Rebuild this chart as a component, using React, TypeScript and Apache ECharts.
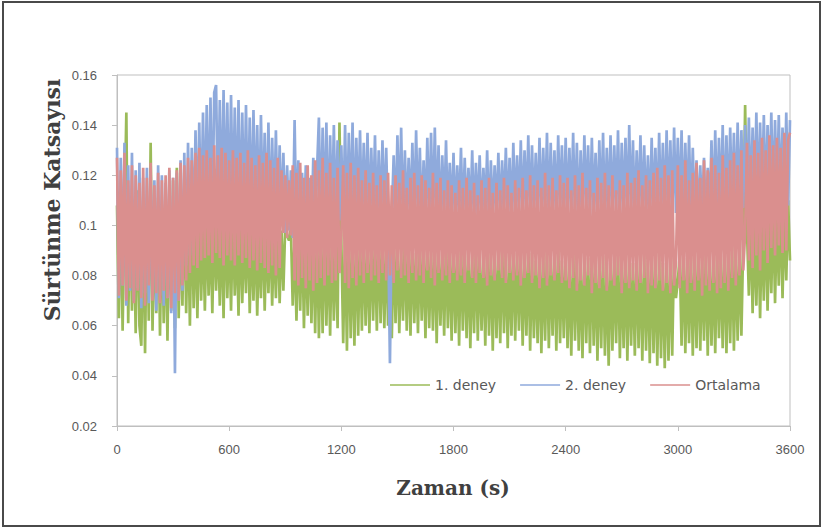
import React, { useEffect, useRef } from "react";
import * as echarts from "echarts";

// Sample spacing of the recorded data (seconds)
const sampleStep = 10;

// X-axis ticks
const xTicks = [0, 600, 1200, 1800, 2400, 3000, 3600];

// 1. deney (every 10 s; one row = 120 s)
const deney1 = [
  .108,.063,.112,.058,.104,.145,.061,.110,.066,.103,.057,.114,
  .060,.052,.106,.049,.109,.062,.133,.058,.101,.065,.111,.056,
  .104,.061,.099,.054,.112,.066,.118,.059,.123,.063,.107,.068,
  .113,.065,.104,.060,.109,.067,.101,.063,.106,.070,.100,.066,
  .103,.072,.098,.065,.105,.074,.099,.068,.102,.063,.107,.071,
  .100,.066,.104,.072,.097,.064,.103,.069,.099,.073,.105,.065,
  .098,.070,.102,.064,.096,.071,.104,.066,.099,.073,.101,.068,
  .097,.071,.103,.069,.098,.074,.100,.096,.094,.099,.068,.095,
  .062,.098,.066,.101,.059,.096,.064,.100,.061,.097,.057,.099,
  .055,.097,.057,.100,.060,.095,.056,.098,.062,.094,.059,.141,
  .094,.053,.097,.050,.099,.055,.093,.052,.098,.056,.095,.058,
  .096,.060,.092,.057,.097,.062,.094,.058,.098,.061,.093,.059,
  .095,.060,.091,.055,.096,.061,.093,.057,.090,.062,.097,.058,
  .092,.056,.096,.061,.089,.057,.094,.062,.091,.055,.095,.059,
  .090,.058,.094,.053,.092,.060,.089,.056,.095,.059,.091,.054,
  .093,.057,.089,.052,.094,.058,.090,.055,.092,.051,.088,.057,
  .094,.054,.090,.058,.087,.052,.093,.056,.089,.050,.092,.055,
  .088,.053,.093,.057,.090,.051,.087,.056,.094,.054,.089,.058,
  .091,.052,.087,.056,.093,.050,.089,.055,.086,.053,.092,.049,
  .088,.054,.091,.051,.087,.056,.090,.050,.093,.053,.086,.055,
  .090,.051,.086,.048,.091,.054,.088,.050,.085,.047,.090,.053,
  .087,.049,.091,.052,.086,.046,.089,.051,.088,.048,.085,.044,
  .090,.050,.087,.053,.091,.047,.086,.051,.089,.046,.088,.052,
  .085,.048,.090,.051,.087,.046,.089,.050,.086,.045,.091,.049,
  .087,.044,.089,.047,.085,.043,.088,.046,.086,.048,.090,.071,
  .078,.088,.052,.091,.049,.087,.053,.090,.048,.088,.051,.092,
  .050,.087,.054,.090,.048,.089,.052,.086,.049,.091,.055,.088,
  .051,.092,.049,.089,.053,.093,.050,.090,.054,.091,.056,.094,
  .148,.098,.072,.103,.065,.099,.068,.104,.063,.101,.070,.106,
  .066,.102,.073,.108,.069,.104,.076,.109,.071,.105,.078,.110,
  .086,
];

// 2. deney
const deney2 = [
  .131,.071,.127,.076,.133,.068,.124,.074,.129,.070,.122,.075,
  .125,.067,.119,.073,.123,.069,.121,.075,.118,.066,.124,.072,
  .120,.068,.117,.071,.122,.065,.119,.041,.121,.070,.126,.074,
  .129,.084,.133,.088,.131,.092,.138,.095,.141,.098,.145,.100,
  .148,.102,.151,.099,.153,.156,.104,.150,.101,.154,.103,.149,
  .100,.152,.103,.147,.101,.150,.098,.145,.102,.148,.100,.143,
  .099,.146,.102,.140,.098,.144,.101,.137,.099,.141,.097,.135,
  .100,.138,.098,.132,.101,.129,.097,.124,.098,.122,.095,.142,
  .096,.126,.093,.121,.098,.124,.092,.119,.097,.127,.094,.122,
  .143,.097,.139,.100,.141,.095,.136,.101,.140,.098,.134,.102,
  .132,.099,.140,.097,.137,.102,.141,.098,.135,.103,.138,.100,
  .133,.102,.137,.099,.131,.103,.136,.098,.130,.101,.134,.102,
  .131,.099,.045,.103,.128,.100,.136,.102,.139,.098,.130,.101,
  .127,.103,.133,.100,.138,.102,.131,.099,.126,.103,.135,.101,
  .137,.100,.139,.102,.132,.099,.128,.103,.134,.101,.125,.102,
  .129,.101,.124,.104,.131,.100,.127,.103,.123,.102,.130,.100,
  .125,.103,.128,.101,.123,.104,.130,.100,.126,.102,.124,.105,
  .129,.101,.126,.104,.131,.102,.127,.100,.133,.103,.128,.104,
  .134,.102,.130,.105,.136,.101,.132,.103,.129,.104,.135,.102,
  .131,.104,.137,.101,.133,.103,.130,.102,.136,.105,.132,.101,
  .135,.103,.131,.104,.137,.102,.133,.100,.130,.103,.136,.105,
  .132,.102,.135,.104,.129,.101,.134,.103,.137,.100,.131,.104,
  .136,.102,.132,.105,.138,.101,.133,.104,.135,.102,.140,.103,
  .134,.101,.130,.104,.136,.102,.132,.103,.128,.100,.135,.104,
  .131,.102,.137,.103,.133,.101,.138,.104,.134,.102,.139,.105,
  .135,.103,.138,.101,.133,.104,.136,.102,.131,.103,.126,.101,
  .124,.103,.127,.100,.123,.104,.134,.102,.138,.103,.135,.105,
  .140,.102,.136,.104,.139,.106,.137,.103,.141,.105,.138,.107,
  .140,.108,.143,.106,.139,.109,.145,.107,.141,.108,.144,.106,
  .140,.110,.145,.107,.142,.109,.144,.108,.139,.110,.145,.108,
  .142,
];

// Ortalama
const ortalama = [
  .127,.072,.122,.076,.129,.070,.118,.075,.124,.069,.120,.074,
  .117,.071,.123,.068,.119,.076,.125,.070,.116,.073,.121,.069,
  .118,.074,.120,.071,.123,.067,.119,.073,.122,.070,.125,.076,
  .124,.078,.127,.081,.126,.084,.129,.083,.131,.086,.128,.087,
  .130,.088,.127,.085,.132,.089,.128,.087,.131,.084,.129,.088,
  .126,.086,.130,.084,.127,.088,.129,.085,.125,.087,.130,.083,
  .127,.086,.124,.082,.128,.085,.125,.083,.129,.081,.126,.084,
  .123,.080,.127,.083,.122,.097,.120,.095,.118,.096,.124,.078,
  .121,.076,.125,.079,.119,.075,.124,.078,.120,.074,.126,.077,
  .122,.079,.127,.076,.121,.080,.125,.077,.119,.078,.123,.081,
  .096,.124,.077,.121,.075,.125,.079,.120,.076,.123,.080,.118,
  .077,.122,.081,.117,.078,.121,.080,.116,.077,.120,.081,.118,
  .078,.121,.080,.116,.077,.120,.082,.117,.079,.122,.080,.115,
  .077,.119,.081,.121,.078,.116,.080,.120,.077,.118,.082,.115,
  .079,.121,.076,.117,.081,.119,.078,.114,.080,.118,.077,.116,
  .081,.113,.078,.118,.080,.115,.077,.119,.082,.114,.079,.117,
  .077,.112,.081,.118,.079,.115,.076,.119,.080,.113,.078,.117,
  .082,.114,.079,.119,.077,.116,.081,.113,.078,.118,.080,.115,
  .076,.119,.079,.114,.081,.120,.077,.116,.080,.118,.075,.115,
  .079,.121,.076,.116,.080,.119,.078,.114,.081,.120,.077,.117,
  .078,.119,.075,.114,.079,.120,.074,.116,.078,.121,.076,.115,
  .080,.118,.073,.113,.077,.119,.075,.117,.079,.121,.074,.116,
  .078,.120,.076,.114,.080,.118,.073,.116,.077,.121,.075,.117,
  .078,.119,.074,.122,.077,.116,.079,.120,.073,.118,.076,.121,
  .075,.123,.078,.119,.074,.124,.077,.120,.073,.122,.076,.085,
  .124,.075,.120,.078,.126,.073,.118,.077,.121,.074,.125,.078,
  .119,.072,.126,.076,.122,.074,.127,.077,.124,.073,.121,.075,
  .128,.077,.123,.074,.126,.079,.129,.076,.124,.080,.130,.082,
  .097,.133,.086,.128,.083,.134,.088,.129,.082,.135,.090,.130,
  .085,.136,.091,.132,.088,.135,.092,.131,.089,.137,.090,.134,
  .137,
];

const seriesNames = ["1. deney", "2. deney", "Ortalama"];
const seriesColors = ["#9BBB59", "#8FAADC", "#DA8F8E"];
const seriesValues = [deney1, deney2, ortalama];

const labelFont = "'Liberation Sans', Arial, sans-serif";
const titleFont = "'DejaVu Serif', serif";

export default function App() {
  const ref = useRef<HTMLDivElement>(null);

  useEffect(() => {
    if (!ref.current) return;
    const chart = echarts.init(ref.current, null, { renderer: "svg" });

    const series = seriesValues.map((vals, k) => ({
      name: seriesNames[k],
      type: "line",
      symbol: "none",
      showSymbol: false,
      data: vals.map((v, i) => [i * sampleStep, v]),
      lineStyle: { width: 2.7, color: seriesColors[k], join: "bevel" },
      itemStyle: { color: seriesColors[k] },
      z: 2 + k,
    }));

    chart.setOption({
      animation: false,
      backgroundColor: "#ffffff",
      grid: {
        left: 117,
        right: 32,
        top: 75,
        bottom: 103,
        show: true,
        borderColor: "#BFBFBF",
        borderWidth: 1,
        backgroundColor: "transparent",
      },
      legend: {
        data: seriesNames,
        left: 390,
        top: 378,
        padding: 0,
        icon: "rect",
        itemWidth: 40,
        itemHeight: 1.5,
        itemGap: 24,
        textStyle: {
          color: "#595959",
          fontSize: 14,
          fontFamily: "'DejaVu Sans', sans-serif",
        },
      },
      xAxis: {
        type: "value",
        min: xTicks[0],
        max: xTicks[xTicks.length - 1],
        interval: 600,
        axisLine: { show: true, lineStyle: { color: "#BFBFBF", width: 1 } },
        axisTick: { show: true, length: 5, inside: false, lineStyle: { color: "#BFBFBF" } },
        splitLine: { show: false },
        axisLabel: {
          color: "#595959",
          fontSize: 13,
          fontFamily: labelFont,
          margin: 17,
          formatter: (v: number) => String(v),
        },
      },
      yAxis: {
        type: "value",
        min: 0.02,
        max: 0.16,
        interval: 0.02,
        axisLine: { show: true, lineStyle: { color: "#BFBFBF", width: 1 } },
        axisTick: { show: true, length: 5, inside: false, lineStyle: { color: "#BFBFBF" } },
        splitLine: { show: false },
        axisLabel: {
          color: "#595959",
          fontSize: 13,
          fontFamily: labelFont,
          margin: 20,
          formatter: (v: number) => String(+v.toFixed(2)),
        },
      },
      graphic: [
        {
          type: "rect",
          silent: true,
          shape: { x: 3, y: 2, width: 817, height: 524 },
          style: { fill: "none", stroke: "#4a4a4a", lineWidth: 2 },
        },
        {
          type: "text",
          silent: true,
          x: 453,
          y: 488,
          style: {
            text: "Zaman (s)",
            font: `bold 20px ${titleFont}`,
            fill: "#404040",
            align: "center",
            verticalAlign: "middle",
            textAlign: "center",
            textVerticalAlign: "middle",
          },
        },
        {
          type: "text",
          silent: true,
          x: 52,
          y: 200,
          rotation: Math.PI / 2,
          style: {
            text: "Sürtünme Katsayısı",
            font: `bold 22px ${titleFont}`,
            fill: "#404040",
            align: "center",
            verticalAlign: "middle",
            textAlign: "center",
            textVerticalAlign: "middle",
          },
        },
      ],
      series,
    });

    return () => chart.dispose();
  }, []);

  return (
    <div
      ref={ref}
      style={{ position: "fixed", left: 0, top: 0, width: 822, height: 529 }}
    />
  );
}
